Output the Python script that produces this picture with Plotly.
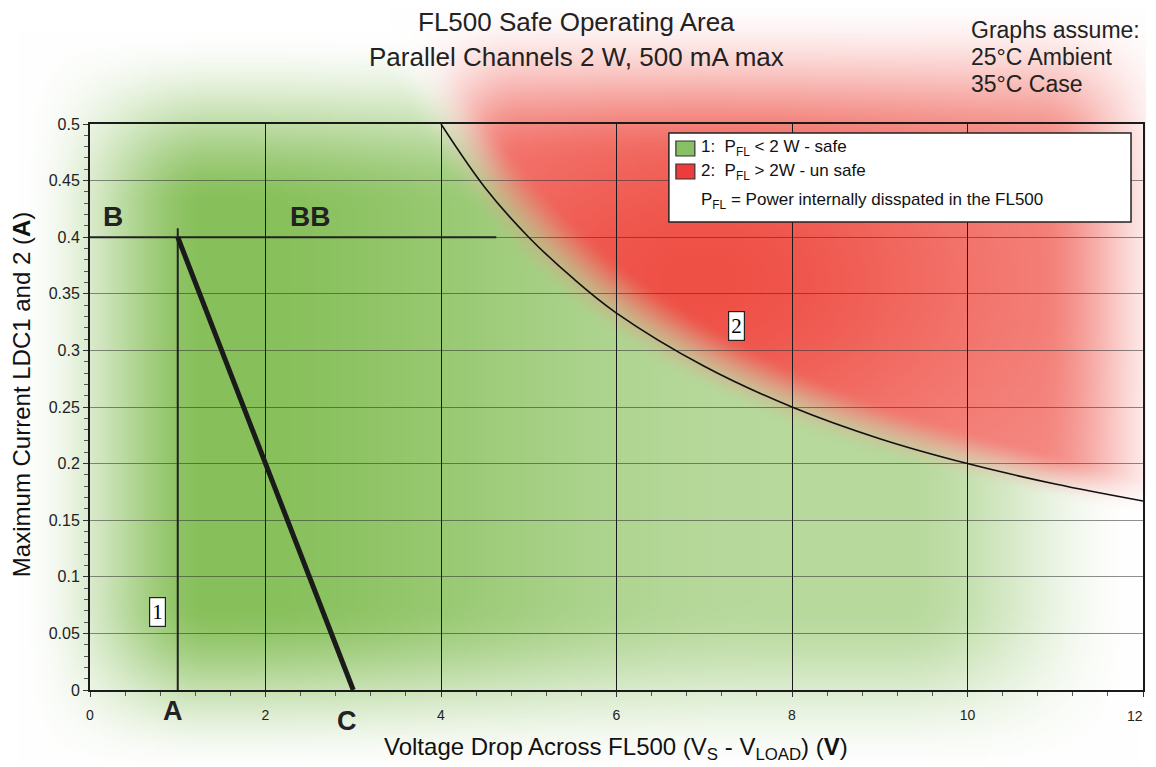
import base64
import struct
import zlib

import numpy as np
import plotly.graph_objects as go

# ---------------- data ----------------
# 2 W power limit curve
curve_v = [4, 4.5, 5, 5.5, 6, 7, 8, 9, 10, 11, 12]
curve_i = [0.5, 0.444, 0.4, 0.364, 0.333, 0.286, 0.25, 0.222, 0.2, 0.182, 0.167]
# example operating line A -> C
load_v = [1, 3]
load_i = [0.4, 0.0]
# marker line at A (x = 1 V)
a_v = [1, 1]
a_i = [0.0, 0.408]
# marker line B - BB (0.4 A)
b_v = [0, 4.63]
b_i = [0.4, 0.4]
x_ticks = [0, 2, 4, 6, 8, 10, 12]
y_ticks = [0, 0.05, 0.1, 0.15, 0.2, 0.25, 0.3, 0.35, 0.4, 0.45, 0.5]

OFF = 8  # page body margin
W_FIG, H_FIG = 1156 - 2 * OFF, 767 - OFF
# margins expressed in screenshot pixels, converted to figure pixels
M_L, M_T, M_B = 90 - OFF, 124 - OFF, 77
M_R = W_FIG + OFF - 1145
PW = W_FIG - M_L - M_R
PH = H_FIG - M_T - M_B


def px2x(p):
    """screenshot x pixel -> paper x"""
    return (p - OFF - M_L) / PW


def py2y(p):
    """screenshot y pixel -> paper y"""
    return (H_FIG - M_B - (p - OFF)) / PH


# ---------------- decorative background glow (png) ----------------
def smoothstep(e0, e1, v):
    t = np.clip((v - e0) / (e1 - e0), 0.0, 1.0)
    return t * t * (3 - 2 * t)


def make_bg():
    w, h = 285, 190
    px = (np.arange(w) + 0.5) * W_FIG / w + OFF
    py = (np.arange(h) + 0.5) * H_FIG / h + OFF
    PX, PY = np.meshgrid(px, py)
    xd = (PX - 90) / 1055 * 12.0
    yd = (690 - PY) / 566 * 0.5
    xy = np.maximum(xd, 0.01) * yd
    rs = smoothstep(1.85, 2.3, xy)
    eg = (smoothstep(20, 210, PX) * smoothstep(775, 600, PY) *
          smoothstep(30, 210, PY) * smoothstep(1140, 900, PX))
    gint = 1 - 0.4 * smoothstep(220, 760, PX)
    er = smoothstep(0, 160, PY) * smoothstep(1185, 1040, PX) * smoothstep(390, 520, PX)
    rint = 0.64 + 0.36 * np.exp(-((PX - 700) / 300) ** 2 - ((PY - 280) / 190) ** 2)
    mid = 1 - 0.1 * 4 * rs * (1 - rs)
    g = eg * (1 - rs) * gint * mid
    r = er * rs * rint * mid
    G = np.array([135, 192, 90])
    R = np.array([239, 80, 70])
    Wc = np.array([255, 255, 255])
    img = (Wc[None, None, :] + g[..., None] * (G - Wc)[None, None, :]
           + r[..., None] * (R - Wc)[None, None, :])
    img = np.clip(img, 0, 255).astype(np.uint8)
    raw = b"".join(b"\x00" + img[j].tobytes() for j in range(h))

    def chunk(tag, data):
        c = struct.pack(">I", len(data)) + tag + data
        return c + struct.pack(">I", zlib.crc32(tag + data) & 0xFFFFFFFF)

    png = (b"\x89PNG\r\n\x1a\n" +
           chunk(b"IHDR", struct.pack(">IIBBBBB", w, h, 8, 2, 0, 0, 0)) +
           chunk(b"IDAT", zlib.compress(raw, 9)) + chunk(b"IEND", b""))
    return "data:image/png;base64," + base64.b64encode(png).decode()


fig = go.Figure()

fig.add_trace(go.Scatter(x=curve_v, y=curve_i, mode="lines", line=dict(color="#111", width=1.6, shape="spline"),
                         hoverinfo="skip", showlegend=False))
fig.add_trace(go.Scatter(x=b_v, y=b_i, mode="lines", line=dict(color="#222", width=2),
                         hoverinfo="skip", showlegend=False))
fig.add_trace(go.Scatter(x=a_v, y=a_i, mode="lines", line=dict(color="#222", width=2),
                         hoverinfo="skip", showlegend=False))
fig.add_trace(go.Scatter(x=load_v, y=load_i, mode="lines", line=dict(color="#1a1a1a", width=5),
                         hoverinfo="skip", showlegend=False))

BF = "Liberation Sans, Arial, sans-serif"
ann = []
# last x tick label, kept inside the page
ann.append(dict(x=x_ticks[-1], y=py2y(716), xref="x", yref="paper", xanchor="right", yanchor="middle",
                xshift=2, text=str(x_ticks[-1]), showarrow=False, font=dict(family=BF, size=14, color="#222")))
# region labels
for txt, x, y in [("1", 0.77, 0.069), ("2", 7.37, 0.322)]:
    ann.append(dict(x=x, y=y, xref="x", yref="y", text=txt, showarrow=False,
                    font=dict(family="Liberation Serif, serif", size=21, color="black"),
                    bgcolor="white", bordercolor="#222", borderwidth=1.2, borderpad=2))
for txt, x, y in [("B", 0.26, 0.418), ("BB", 2.51, 0.418)]:
    ann.append(dict(x=x, y=y, xref="x", yref="y", text="<b>%s</b>" % txt, showarrow=False,
                    font=dict(family=BF, size=28, color="#222")))
ann.append(dict(x=0.95, y=py2y(711), xref="x", yref="paper", yanchor="middle", text="<b>A</b>",
                showarrow=False, font=dict(family=BF, size=27, color="#222")))
ann.append(dict(x=2.93, y=py2y(721), xref="x", yref="paper", yanchor="middle", text="<b>C</b>",
                showarrow=False, font=dict(family=BF, size=27, color="#222")))
# titles
for txt, ypx in [("FL500 Safe Operating Area", 22), ("Parallel Channels 2 W, 500 mA max", 57)]:
    ann.append(dict(x=px2x(577), y=py2y(ypx), xref="paper", yref="paper",
                    xanchor="center", yanchor="middle", text=txt, showarrow=False,
                    font=dict(family=BF, size=26, color="#222")))
for k, txt in enumerate(["Graphs assume:", "25°C Ambient", "35°C Case"]):
    ann.append(dict(x=px2x(971), y=py2y(30 + 27 * k), xref="paper", yref="paper",
                    xanchor="left", yanchor="middle", text=txt, showarrow=False,
                    font=dict(family=BF, size=23, color="#222")))
# axis titles
ann.append(dict(x=px2x(617), y=py2y(748), xref="paper", yref="paper", xanchor="center", yanchor="middle",
                text="Voltage Drop Across FL500 (V<sub>S</sub> - V<sub>LOAD</sub>) (<b>V</b>)",
                showarrow=False, font=dict(family=BF, size=24, color="#111")))
ann.append(dict(x=px2x(21), y=py2y(395), xref="paper", yref="paper", xanchor="center", yanchor="middle",
                textangle=-90, text="Maximum Current LDC1 and 2 (<b>A</b>)",
                showarrow=False, font=dict(family=BF, size=24, color="#111")))
# legend box
LF = dict(family=BF, size=17, color="#111")
leg_rows = [("1:  P<sub>FL</sub> < 2 W - safe", 148), ("2:  P<sub>FL</sub> > 2W - un safe", 172),
            ("P<sub>FL</sub> = Power internally disspated in the FL500", 201)]
for txt, ypx in leg_rows:
    ann.append(dict(x=px2x(700), y=py2y(ypx), xref="paper", yref="paper",
                    xanchor="left", yanchor="middle", text=txt, showarrow=False, font=LF))

shapes = [
    dict(type="rect", xref="paper", yref="paper", x0=px2x(670), x1=px2x(1133),
         y0=py2y(222), y1=py2y(133),
         fillcolor="white", line=dict(color="#222", width=1.5), layer="above"),
    dict(type="rect", xref="paper", yref="paper", x0=px2x(677), x1=px2x(696),
         y0=py2y(156), y1=py2y(141),
         fillcolor="#86c163", line=dict(color="#333", width=1.2), layer="above"),
    dict(type="rect", xref="paper", yref="paper", x0=px2x(677), x1=px2x(696),
         y0=py2y(179), y1=py2y(164),
         fillcolor="#ee3b3b", line=dict(color="#333", width=1.2), layer="above"),
]

fig.update_layout(
    width=W_FIG, height=H_FIG, autosize=False,
    margin=dict(l=M_L, r=M_R, t=M_T, b=M_B),
    paper_bgcolor="white", plot_bgcolor="rgba(0,0,0,0)",
    showlegend=False,
    annotations=ann, shapes=shapes,
    images=[dict(source=make_bg(), xref="paper", yref="paper",
                 x=-M_L / PW, y=1 + M_T / PH, sizex=W_FIG / PW, sizey=H_FIG / PH,
                 sizing="stretch", xanchor="left", yanchor="top", layer="below")],
    font=dict(family=BF, color="#222"),
)
fig.update_xaxes(range=[0, 12], tickvals=x_ticks,
                 ticktext=[str(v) if v != x_ticks[-1] else "" for v in x_ticks],
                 showgrid=True, gridcolor="#1a1a1a", gridwidth=1.3,
                 showline=True, linecolor="#1a1a1a", linewidth=2, mirror=True,
                 ticks="outside", ticklen=5, tickcolor="#333", zeroline=False,
                 tickfont=dict(size=14, color="#222"), ticklabelstandoff=6,
                 minor=dict(dtick=0.4, tick0=0, ticks="outside", ticklen=4, tickcolor="#555", showgrid=False))
fig.update_yaxes(range=[0, 0.5], tickvals=y_ticks, ticktext=[("%g" % v) for v in y_ticks],
                 showgrid=True, gridcolor="rgba(50,50,50,0.55)", gridwidth=1,
                 showline=True, linecolor="#1a1a1a", linewidth=2, mirror=True,
                 ticks="outside", ticklen=5, tickcolor="#333", zeroline=False,
                 tickfont=dict(size=16, color="#222"),
                 minor=dict(dtick=0.01, tick0=0, ticks="outside", ticklen=4, tickcolor="#555", showgrid=False))

fig.write_html("out.html", config={"responsive": False})
